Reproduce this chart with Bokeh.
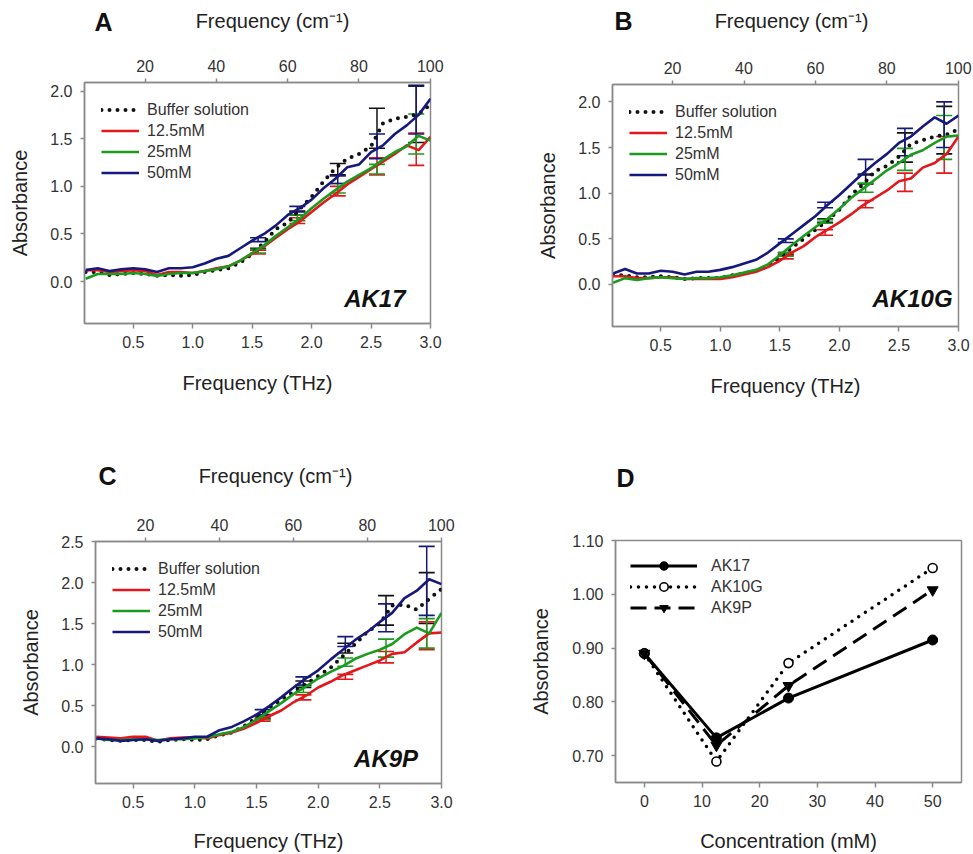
from bokeh.plotting import figure
from bokeh.models import (Range1d, LinearAxis, FixedTicker, Whisker, TeeHead,
                          ColumnDataSource, Legend, LegendItem, Label, PrintfTickFormatter)
from bokeh.layouts import column, row
from bokeh.embed import file_html
from bokeh.resources import INLINE
from bokeh.core.properties import value

# ---------------- data ----------------
FREQ_AB = [0.1, 0.2, 0.3, 0.4, 0.5, 0.6, 0.7, 0.8, 0.9, 1.0, 1.1, 1.2, 1.3, 1.4, 1.5,
           1.6, 1.7, 1.8, 1.9, 2.0, 2.1, 2.2, 2.3, 2.4, 2.5, 2.6, 2.7, 2.8, 2.9, 3.0]
FREQ_C = [0.2, 0.3, 0.4, 0.5, 0.6, 0.7, 0.8, 0.9, 1.0, 1.1, 1.2, 1.3, 1.4, 1.5,
          1.6, 1.7, 1.8, 1.9, 2.0, 2.1, 2.2, 2.3, 2.4, 2.5, 2.6, 2.7, 2.8, 2.9, 3.0]
CM_TICKS = [20, 40, 60, 80, 100]
THZ_TICKS = [0.5, 1.0, 1.5, 2.0, 2.5, 3.0]
THZ_TO_CM = 33.356

SERIES_NAMES = ["Buffer solution", "12.5mM", "25mM", "50mM"]

A_BUFFER = [0.10, 0.10, 0.07, 0.08, 0.09, 0.08, 0.06, 0.07, 0.06, 0.07, 0.10, 0.12, 0.14, 0.20, 0.29,
            0.41, 0.55, 0.62, 0.76, 0.89, 1.05, 1.19, 1.29, 1.34, 1.42, 1.66, 1.71, 1.73, 1.76, 1.86]
A_12MM = [0.12, 0.12, 0.10, 0.11, 0.12, 0.11, 0.07, 0.10, 0.10, 0.09, 0.11, 0.14, 0.16, 0.22, 0.29,
          0.37, 0.46, 0.55, 0.63, 0.73, 0.83, 0.92, 1.02, 1.10, 1.18, 1.26, 1.34, 1.43, 1.38, 1.52]
A_25MM = [0.03, 0.08, 0.08, 0.08, 0.09, 0.08, 0.06, 0.08, 0.09, 0.09, 0.11, 0.13, 0.16, 0.22, 0.30,
          0.38, 0.48, 0.57, 0.66, 0.77, 0.87, 0.96, 1.05, 1.12, 1.19, 1.28, 1.36, 1.42, 1.53, 1.48]
A_50MM = [0.12, 0.14, 0.11, 0.13, 0.14, 0.13, 0.10, 0.14, 0.14, 0.15, 0.19, 0.24, 0.27, 0.35, 0.43,
          0.50, 0.59, 0.70, 0.77, 0.86, 0.98, 1.08, 1.20, 1.23, 1.36, 1.43, 1.55, 1.64, 1.75, 1.92]

B_BUFFER = [0.10, 0.10, 0.08, 0.08, 0.09, 0.08, 0.06, 0.07, 0.07, 0.07, 0.10, 0.12, 0.15, 0.20, 0.30,
            0.40, 0.50, 0.60, 0.70, 0.82, 0.98, 1.10, 1.24, 1.30, 1.40, 1.54, 1.58, 1.62, 1.64, 1.70]
B_12MM = [0.09, 0.09, 0.07, 0.07, 0.08, 0.08, 0.06, 0.06, 0.06, 0.06, 0.08, 0.11, 0.14, 0.19, 0.26,
          0.35, 0.42, 0.52, 0.60, 0.68, 0.77, 0.87, 0.95, 1.03, 1.13, 1.16, 1.28, 1.33, 1.43, 1.62]
B_25MM = [0.02, 0.07, 0.05, 0.07, 0.08, 0.07, 0.06, 0.07, 0.07, 0.08, 0.10, 0.13, 0.16, 0.22, 0.32,
          0.43, 0.53, 0.63, 0.72, 0.83, 0.95, 1.05, 1.15, 1.25, 1.33, 1.42, 1.47, 1.55, 1.62, 1.63]
B_50MM = [0.12, 0.17, 0.12, 0.12, 0.15, 0.14, 0.11, 0.14, 0.14, 0.16, 0.19, 0.23, 0.27, 0.35, 0.45,
          0.55, 0.65, 0.75, 0.87, 0.98, 1.10, 1.22, 1.33, 1.43, 1.55, 1.62, 1.73, 1.83, 1.76, 1.85]

C_BUFFER = [0.10, 0.08, 0.07, 0.08, 0.08, 0.06, 0.08, 0.09, 0.08, 0.09, 0.14, 0.17, 0.25, 0.35,
            0.47, 0.57, 0.67, 0.76, 0.86, 0.96, 1.10, 1.25, 1.40, 1.50, 1.72, 1.73, 1.67, 1.80, 1.92]
C_12MM = [0.12, 0.11, 0.10, 0.12, 0.12, 0.07, 0.10, 0.11, 0.11, 0.10, 0.14, 0.17, 0.22, 0.29,
          0.37, 0.44, 0.54, 0.62, 0.72, 0.79, 0.87, 0.93, 0.99, 1.05, 1.13, 1.15, 1.27, 1.38, 1.39]
C_25MM = [0.10, 0.08, 0.08, 0.09, 0.09, 0.08, 0.09, 0.09, 0.10, 0.11, 0.15, 0.18, 0.24, 0.33,
          0.43, 0.53, 0.64, 0.73, 0.83, 0.91, 0.98, 1.07, 1.13, 1.18, 1.25, 1.37, 1.45, 1.38, 1.63]
C_50MM = [0.10, 0.09, 0.07, 0.08, 0.09, 0.07, 0.09, 0.10, 0.12, 0.12, 0.20, 0.24, 0.31, 0.39,
          0.49, 0.60, 0.72, 0.83, 0.93, 1.06, 1.18, 1.30, 1.40, 1.52, 1.63, 1.81, 1.90, 2.04, 1.98]

# error bars: positions, means and half-widths
ERR_X = [1.55, 1.88, 2.22, 2.55, 2.88]
A_BUFFER_ERR_MID = [0.34, 0.72, 1.18, 1.61, 1.76]
A_BUFFER_ERR_HALF = [0.01, 0.02, 0.06, 0.21, 0.30]
A_12MM_ERR_MID = [0.31, 0.64, 0.95, 1.21, 1.39]
A_12MM_ERR_HALF = [0.02, 0.03, 0.05, 0.09, 0.17]
A_25MM_ERR_MID = [0.32, 0.67, 0.98, 1.18, 1.55]
A_25MM_ERR_HALF = [0.02, 0.03, 0.05, 0.05, 0.21]
A_50MM_ERR_MID = [0.44, 0.76, 1.07, 1.42, 1.80]
A_50MM_ERR_HALF = [0.02, 0.03, 0.04, 0.13, 0.25]

B_BUFFER_ERR_MID = [0.34, 0.70, 1.15, 1.50, 1.69]
B_BUFFER_ERR_HALF = [0.01, 0.02, 0.05, 0.16, 0.26]
B_12MM_ERR_MID = [0.30, 0.57, 0.88, 1.12, 1.42]
B_12MM_ERR_HALF = [0.02, 0.03, 0.04, 0.10, 0.20]
B_25MM_ERR_MID = [0.33, 0.69, 1.06, 1.37, 1.61]
B_25MM_ERR_HALF = [0.02, 0.02, 0.05, 0.12, 0.24]
B_50MM_ERR_MID = [0.48, 0.87, 1.29, 1.56, 1.75]
B_50MM_ERR_HALF = [0.02, 0.03, 0.08, 0.15, 0.25]

C_BUFFER_ERR_MID = [0.36, 0.76, 1.20, 1.66, 1.81]
C_BUFFER_ERR_HALF = [0.02, 0.04, 0.06, 0.18, 0.31]
C_12MM_ERR_MID = [0.33, 0.60, 0.85, 1.09, 1.35]
C_12MM_ERR_HALF = [0.02, 0.03, 0.03, 0.07, 0.17]
C_25MM_ERR_MID = [0.35, 0.70, 1.03, 1.20, 1.38]
C_25MM_ERR_HALF = [0.02, 0.04, 0.05, 0.11, 0.18]
C_50MM_ERR_MID = [0.42, 0.80, 1.28, 1.57, 2.02]
C_50MM_ERR_HALF = [0.03, 0.05, 0.06, 0.17, 0.42]

# panel D
CONC = [0, 12.5, 25, 50]
CONC_TICKS = [0, 10, 20, 30, 40, 50]
D_AK17 = [0.890, 0.733, 0.807, 0.915]
D_AK10G = [0.890, 0.689, 0.872, 1.049]
D_AK9P = [0.890, 0.719, 0.830, 1.008]
D_NAMES = ["AK17", "AK10G", "AK9P"]

# ---------------- style ----------------
FONT = "Liberation Sans"
AXC = "#8a8a8a"
TXT = "#333333"
COLORS = ["#111111", "#e3161b", "#1c9a1f", "#16187c"]
TOP_LABEL = "Frequency (cm\u207b\u00b9)"


def style_axis(ax, axlab_standoff=20, tick_out=5, lab_standoff=7):
    ax.axis_line_color = AXC
    ax.axis_line_width = 1.5
    ax.major_tick_line_color = AXC
    ax.major_tick_line_width = 1.5
    ax.major_tick_out = tick_out
    ax.major_tick_in = 0
    ax.minor_tick_line_color = None
    ax.major_label_text_font = FONT
    ax.major_label_text_font_size = "16px"
    ax.major_label_text_color = TXT
    ax.major_label_standoff = lab_standoff
    ax.axis_label_text_font = FONT
    ax.axis_label_text_font_size = "20px"
    ax.axis_label_text_font_style = "normal"
    ax.axis_label_text_color = "#222222"
    ax.axis_label_standoff = axlab_standoff


def make_fig(w, h, xr, yr, borders):
    l, r, t, b = borders
    p = figure(width=w, height=h, x_range=Range1d(*xr), y_range=Range1d(*yr),
               output_backend="svg", toolbar_location=None,
               min_border_left=l, min_border_right=r, min_border_top=t, min_border_bottom=b)
    p.grid.visible = False
    p.outline_line_color = AXC
    p.outline_line_width = 1.5
    p.background_fill_color = "white"
    p.border_fill_color = "white"
    return p


def header(w, h, left, right, letter, letter_x, letter_y, letter_align,
           title=None, title_x=None, title_y=None):
    """Strip above a panel holding the panel letter and the top axis title.
    Its frame is aligned with the panel frame below it, so its x range is
    expressed in pixels from the left edge of the figure."""
    hp = figure(width=w, height=h, x_range=Range1d(left, w - right), y_range=Range1d(0, h),
                output_backend="svg", toolbar_location=None,
                x_axis_type=None, y_axis_type=None,
                min_border_left=left, min_border_right=right, min_border_top=0,
                min_border_bottom=0)
    hp.grid.visible = False
    hp.outline_line_color = None
    hp.text(x=[letter_x], y=[letter_y], text=[letter], text_font=value(FONT),
            text_font_size="25px", text_font_style="bold", text_color="#111111",
            text_align=letter_align, text_baseline="middle")
    if title is not None:
        hp.text(x=[title_x], y=[title_y], text=[title], text_font=value(FONT),
                text_font_size="20px", text_color="#222222",
                text_align="center", text_baseline="middle")
    return hp


def spectrum_panel(w, h, xr, yr, borders, yticks, freq, curves, errs, tag, tag_xy,
                   bottom_standoff):
    p = make_fig(w, h, xr, yr, borders)
    p.extra_x_ranges = {"cm": Range1d(xr[0] * THZ_TO_CM, xr[1] * THZ_TO_CM)}
    top = LinearAxis(x_range_name="cm", ticker=FixedTicker(ticks=CM_TICKS))
    p.add_layout(top, "above")
    style_axis(top, tick_out=4, lab_standoff=7)
    for ax in p.below:
        ax.ticker = FixedTicker(ticks=THZ_TICKS)
        ax.formatter = PrintfTickFormatter(format="%.1f")
        ax.axis_label = "Frequency (THz)"
        style_axis(ax, axlab_standoff=bottom_standoff)
    for ax in p.left:
        ax.ticker = FixedTicker(ticks=yticks)
        ax.formatter = PrintfTickFormatter(format="%.1f")
        ax.axis_label = "Absorbance"
        style_axis(ax, axlab_standoff=16, tick_out=4, lab_standoff=8)

    items = []
    for i, (ys, name) in enumerate(zip(curves, SERIES_NAMES)):
        if i == 0:
            r = p.line(freq, ys, line_color=COLORS[0], line_width=4, line_dash="0 8",
                       line_cap="round")
        else:
            r = p.line(freq, ys, line_color=COLORS[i], line_width=2.6, line_join="round")
        items.append(LegendItem(label=name, renderers=[r]))

    for i, (mid, half) in enumerate(errs):
        src = ColumnDataSource(dict(x=ERR_X,
                                    upper=[m + hh for m, hh in zip(mid, half)],
                                    lower=[m - hh for m, hh in zip(mid, half)]))
        c = COLORS[i]
        wk = Whisker(source=src, base="x", upper="upper", lower="lower", dimension="height",
                     line_color=c, line_width=1.5,
                     upper_head=TeeHead(size=16, line_color=c, line_width=1.6),
                     lower_head=TeeHead(size=16, line_color=c, line_width=1.6))
        p.add_layout(wk)

    leg = Legend(items=items, location="top_left", border_line_color=None,
                 background_fill_alpha=0, margin=17, padding=8, spacing=0,
                 glyph_width=38, glyph_height=21, label_height=21, label_standoff=8,
                 label_text_font=FONT, label_text_font_size="16px", label_text_color=TXT)
    p.add_layout(leg)

    p.add_layout(Label(x=tag_xy[0], y=tag_xy[1], text=tag, text_font=FONT,
                       text_font_size="24px", text_font_style="bold italic",
                       text_color="#111111", text_align="right", text_baseline="middle"))
    return p


# ---- row 1 (header 40 px + plot 388 px) ----
hA = header(501, 40, 84, 71, "A", 103, 19, "center", TOP_LABEL, 272, 20)
pA = spectrum_panel(501, 388, (0.09, 3.0), (-0.44, 2.09), (84, 71, 42, 105),
                    [0.0, 0.5, 1.0, 1.5, 2.0], FREQ_AB,
                    [A_BUFFER, A_12MM, A_25MM, A_50MM],
                    [(A_BUFFER_ERR_MID, A_BUFFER_ERR_HALF), (A_12MM_ERR_MID, A_12MM_ERR_HALF),
                     (A_25MM_ERR_MID, A_25MM_ERR_HALF), (A_50MM_ERR_MID, A_50MM_ERR_HALF)],
                    "AK17", (2.79, -0.18), 21)

hB = header(472, 40, 111, 15, "B", 122, 20, "center", TOP_LABEL, 290, 20)
pB = spectrum_panel(472, 388, (0.095, 3.0), (-0.46, 2.19), (111, 15, 44, 102),
                    [0.0, 0.5, 1.0, 1.5, 2.0], FREQ_AB,
                    [B_BUFFER, B_12MM, B_25MM, B_50MM],
                    [(B_BUFFER_ERR_MID, B_BUFFER_ERR_HALF), (B_12MM_ERR_MID, B_12MM_ERR_HALF),
                     (B_25MM_ERR_MID, B_25MM_ERR_HALF), (B_50MM_ERR_MID, B_50MM_ERR_HALF)],
                    "AK10G", (2.95, -0.15), 21)

# ---- row 2 (header 70 px + plot 356 px) ----
hC = header(501, 70, 95, 60, "C", 107, 23, "center", TOP_LABEL, 275, 23)
pC = spectrum_panel(501, 356, (0.194, 3.0), (-0.45, 2.5), (95, 60, 43, 71),
                    [0.0, 0.5, 1.0, 1.5, 2.0, 2.5], FREQ_C,
                    [C_BUFFER, C_12MM, C_25MM, C_50MM],
                    [(C_BUFFER_ERR_MID, C_BUFFER_ERR_HALF), (C_12MM_ERR_MID, C_12MM_ERR_HALF),
                     (C_25MM_ERR_MID, C_25MM_ERR_HALF), (C_50MM_ERR_MID, C_50MM_ERR_HALF)],
                    "AK9P", (2.81, -0.14), 19)

hD = header(472, 70, 114, 12, "D", 115, 21, "left")
pD = make_fig(472, 356, (-5, 55), (0.65, 1.10), (114, 12, 42, 72))
for ax in pD.below:
    ax.ticker = FixedTicker(ticks=CONC_TICKS)
    ax.axis_label = "Concentration (mM)"
    style_axis(ax, axlab_standoff=20)
for ax in pD.left:
    ax.ticker = FixedTicker(ticks=[0.70, 0.80, 0.90, 1.00, 1.10])
    ax.formatter = PrintfTickFormatter(format="%.2f")
    ax.axis_label = "Absorbance"
    style_axis(ax, axlab_standoff=17, tick_out=4, lab_standoff=8)

r1l = pD.line(CONC, D_AK17, line_color="black", line_width=3)
r1m = pD.scatter(CONC, D_AK17, marker="circle", size=10, fill_color="black", line_color="black")
r2l = pD.line(CONC, D_AK10G, line_color="black", line_width=3.5, line_dash="0 8", line_cap="round")
r2m = pD.scatter(CONC, D_AK10G, marker="circle", size=9, fill_color="white", line_color="black",
                 line_width=1.6)
r3l = pD.line(CONC, D_AK9P, line_color="black", line_width=3, line_dash="16 8")
r3m = pD.scatter(CONC, D_AK9P, marker="inverted_triangle", size=11, fill_color="black",
                 line_color="black")
legD = Legend(items=[LegendItem(label=D_NAMES[0], renderers=[r1l, r1m]),
                     LegendItem(label=D_NAMES[1], renderers=[r2l, r2m]),
                     LegendItem(label=D_NAMES[2], renderers=[r3l, r3m])],
              location="top_left", border_line_color=None, background_fill_alpha=0,
              margin=15, padding=7, spacing=0, glyph_width=67, glyph_height=21,
              label_height=21, label_standoff=14, label_text_font=FONT,
              label_text_font_size="16px", label_text_color=TXT)
pD.add_layout(legD)

layout = column(row(column(hA, pA), column(hB, pB)),
                row(column(hC, pC), column(hD, pD)))
open("out.html", "w").write(file_html(layout, INLINE))
